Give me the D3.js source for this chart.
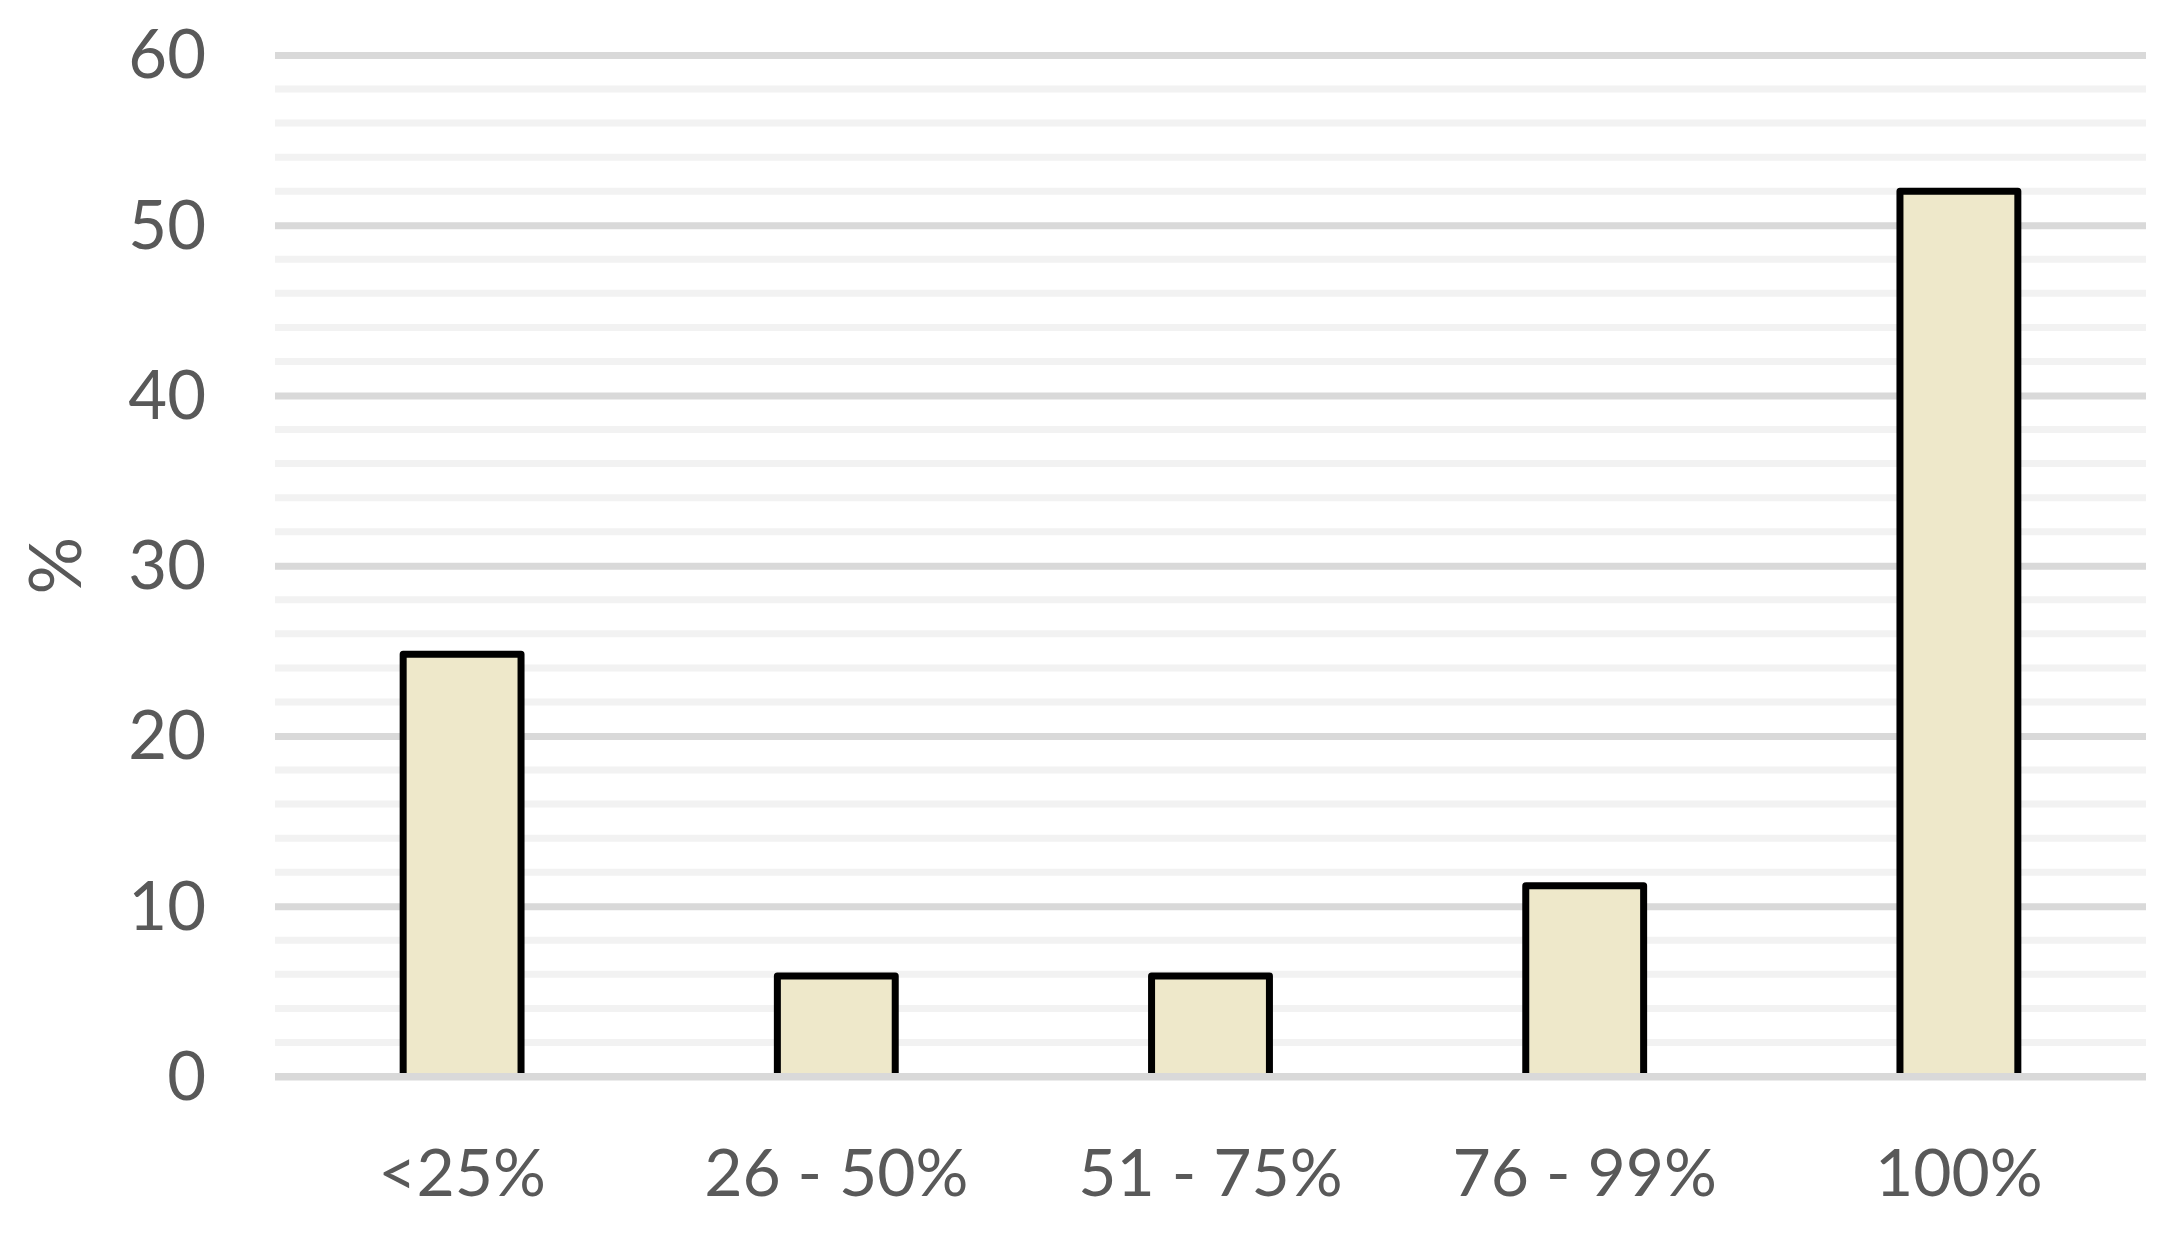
<!DOCTYPE html>
<html>
<head>
<meta charset="utf-8">
<script src="https://cdn.jsdelivr.net/npm/d3@7"></script>
<style>
  html, body { margin: 0; padding: 0; background: #ffffff; }
  svg { display: block; }
  text { font-family: Lato, "Open Sans", sans-serif; fill: #595959; }
</style>
</head>
<body>
<svg id="chart" width="2175" height="1233"></svg>
<script>
const categories = ["<25%", "26 - 50%", "51 - 75%", "76 - 99%", "100%"];
const values = [24.8, 5.9, 5.9, 11.2, 52.0];
const yTicks = [0, 10, 20, 30, 40, 50, 60];
const yMinorTicks = d3.range(0, 61, 2);
const yLabel = "%";

const W = 2175, H = 1233;
const margin = { left: 275, right: 29, top: 55, bottom: 156.5 };
const svg = d3.select("#chart");

const x = d3.scaleBand()
  .domain(categories)
  .range([margin.left, W - margin.right])
  .paddingInner(0.685)
  .paddingOuter(0.3425);

const y = d3.scaleLinear()
  .domain([0, 60])
  .range([H - margin.bottom, margin.top]);

// minor gridlines
svg.append("g")
  .selectAll("line")
  .data(yMinorTicks.filter(d => d % 10 !== 0))
  .join("line")
  .attr("x1", margin.left).attr("x2", W - margin.right)
  .attr("y1", d => y(d)).attr("y2", d => y(d))
  .attr("stroke", "#f2f2f2").attr("stroke-width", 7);

// major gridlines via axis
const yAxis = d3.axisLeft(y)
  .tickValues(yTicks)
  .tickSize(-(W - margin.left - margin.right))
  .tickPadding(69)
  .tickFormat(d3.format("d"));

const gy = svg.append("g")
  .attr("transform", `translate(${margin.left},0)`)
  .call(yAxis);
gy.select(".domain").remove();
gy.selectAll(".tick line").attr("stroke", "#d9d9d9").attr("stroke-width", 7);
gy.selectAll(".tick text")
  .attr("font-size", 67)
  .attr("fill", "#595959")
  .attr("dy", "0.34em")
  .style("font-family", "Lato, 'Open Sans', sans-serif");

// bars
svg.append("g")
  .selectAll("rect")
  .data(values)
  .join("rect")
  .attr("x", (d, i) => x(categories[i]))
  .attr("width", x.bandwidth())
  .attr("y", d => y(d))
  .attr("height", d => y(0) - y(d))
  .attr("fill", "#eee8ca")
  .attr("stroke", "#000000")
  .attr("stroke-width", 7)
  .attr("stroke-linejoin", "round");

// redraw baseline on top of bar bottoms
svg.append("line")
  .attr("x1", margin.left).attr("x2", W - margin.right)
  .attr("y1", y(0)).attr("y2", y(0))
  .attr("stroke", "#d9d9d9").attr("stroke-width", 7);

// x axis labels
const xAxis = d3.axisBottom(x).tickSize(0).tickPadding(0);
const gx = svg.append("g")
  .attr("transform", `translate(0,${y(0)})`)
  .call(xAxis);
gx.select(".domain").remove();
gx.selectAll(".tick text")
  .attr("font-size", 66)
  .attr("fill", "#595959")
  .attr("y", 119)
  .attr("dy", 0)
  .style("font-family", "Lato, 'Open Sans', sans-serif");

// y label
svg.append("text")
  .attr("transform", `translate(81, ${(y(0) + y(60)) / 2}) rotate(-90)`)
  .attr("text-anchor", "middle")
  .attr("font-size", 72)
  .text(yLabel);
</script>
</body>
</html>
